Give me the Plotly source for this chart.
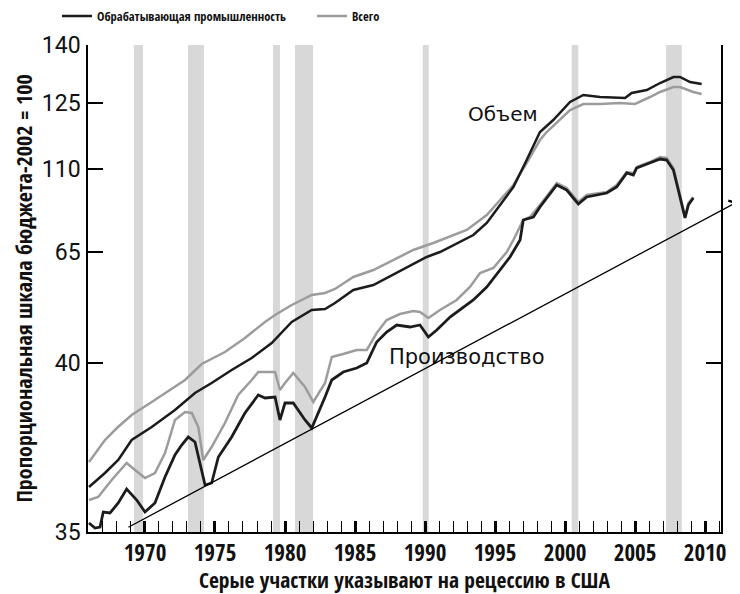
import plotly.graph_objects as go

# ---------------- data ----------------
# y values are positions on the chart's proportional scale (0 = bottom "35", 487 = top "140")
vol_total_x = [1966.0, 1967.14, 1968.07, 1969.05, 1970.48, 1971.91, 1972.86, 1974.05, 1975.71, 1977.14,
               1978.57, 1979.29, 1980.48, 1981.91, 1982.86, 1983.57, 1984.88, 1986.31, 1987.74, 1989.16,
               1990.59, 1992.02, 1992.98, 1994.41, 1995.36, 1996.31, 1997.26, 1998.21, 1998.69, 1999.64,
               2000.36, 2001.31, 2002.5, 2003.93, 2005.0, 2006.07, 2006.79, 2007.74, 2008.21, 2009.16, 2009.76]
vol_total_y = [70, 92, 105, 117, 130, 143, 152, 168, 180, 194,
               210, 217, 227, 237, 239, 243, 255, 262, 272, 282,
               289, 297, 302, 317, 332, 347, 369, 392, 400, 412,
               422, 428, 428, 429, 428, 435, 440, 445, 445, 440, 438]

vol_manuf_x = [1966.0, 1967.14, 1968.09, 1969.05, 1970.48, 1972.14, 1973.57, 1974.76, 1976.19, 1977.62,
               1979.05, 1980.48, 1981.91, 1982.86, 1983.57, 1984.88, 1986.31, 1987.26, 1988.69, 1990.12,
               1991.07, 1992.5, 1993.45, 1994.41, 1995.36, 1996.31, 1997.26, 1998.21, 1999.16, 2000.36,
               2001.31, 2002.5, 2004.29, 2004.76, 2005.84, 2006.79, 2007.74, 2008.21, 2008.93, 2009.76]
vol_manuf_y = [45, 59, 72, 92, 105, 122, 139, 149, 162, 174,
               189, 210, 222, 223, 229, 242, 247, 254, 265, 275,
               280, 290, 297, 309, 327, 345, 372, 400, 412, 430,
               437, 435, 434, 439, 442, 449, 455, 455, 450, 448]

prod_total_x = [1966.0, 1966.66, 1967.62, 1968.69, 1969.29, 1970.0, 1970.71, 1971.43, 1972.14, 1972.86,
                1973.34, 1973.81, 1974.16, 1974.76, 1975.71, 1976.66, 1977.62, 1978.09, 1979.29, 1979.64,
                1980.0, 1980.59, 1981.43, 1982.02, 1982.86, 1983.34, 1984.16, 1985.12, 1985.84, 1986.55,
                1987.26, 1988.21, 1989.16, 1989.64, 1990.24, 1991.07, 1992.26, 1993.21, 1993.93, 1994.88,
                1995.84, 1996.31, 1997.02, 1997.5, 1998.21, 1999.41, 2000.12, 2000.95, 2001.55, 2002.98,
                2003.69, 2004.41, 2004.88, 2005.12, 2006.07, 2006.79, 2007.26, 2007.74, 2008.21, 2008.57,
                2008.81, 2009.16]
prod_total_y = [32, 35, 52, 69, 62, 54, 59, 79, 112, 120,
                119, 105, 72, 85, 109, 137, 152, 160, 160, 142,
                149, 159, 145, 130, 149, 175, 178, 182, 182, 199,
                212, 218, 221, 220, 214, 222, 232, 245, 259, 264,
                280, 292, 312, 315, 327, 349, 344, 330, 337, 340,
                347, 360, 359, 365, 370, 375, 374, 364, 337, 315,
                329, 335]

prod_manuf_x = [1966.0, 1966.43, 1966.79, 1967.02, 1967.5, 1968.09, 1968.69, 1969.05, 1969.41, 1970.0,
                1970.71, 1971.43, 1972.14, 1972.62, 1973.09, 1973.57, 1973.93, 1974.29, 1974.76, 1975.24,
                1976.19, 1977.14, 1978.09, 1978.57, 1979.29, 1979.64, 1980.0, 1980.59, 1981.43, 1981.91,
                1982.86, 1983.34, 1984.16, 1985.12, 1985.84, 1986.55, 1987.26, 1987.98, 1988.93, 1989.64,
                1990.24, 1990.84, 1991.79, 1992.74, 1993.45, 1994.41, 1995.36, 1996.07, 1996.79, 1997.02,
                1997.74, 1998.21, 1999.41, 2000.12, 2000.95, 2001.55, 2002.98, 2003.69, 2004.41, 2004.88,
                2005.12, 2006.07, 2006.79, 2007.26, 2007.74, 2008.21, 2008.57, 2008.81, 2009.16]
prod_manuf_y = [9, 4, 5, 20, 19, 29, 43, 37, 32, 20,
                29, 55, 77, 87, 95, 90, 69, 47, 49, 75,
                95, 119, 137, 134, 135, 112, 129, 129, 112, 104,
                135, 152, 160, 164, 169, 190, 200, 207, 205, 207,
                195, 202, 215, 225, 232, 245, 262, 275, 292, 312,
                315, 325, 347, 342, 328, 335, 339, 345, 359, 357,
                364, 369, 373, 372, 362, 335, 314, 327, 334]

recession_start = [1969.21, 1973.07, 1979.14, 1980.71, 1989.84, 2000.48, 2007.21]
recession_end = [1969.86, 1974.21, 1979.64, 1982.0, 1990.26, 2000.95, 2008.34]

y_tick_pos = [0, 169, 280, 363, 429, 487]
y_tick_text = ["35", "40", "65", "110", "125", "140"]

series_manuf_name = "Обрабатывающая промышленность"
series_total_name = "Всего"

# ---------------- styles ----------------
BLACK = "#1c1c1c"
GRAY = "#9c9c9c"
NARROW = "Noto Sans Condensed, Open Sans Condensed, Liberation Sans Narrow, DejaVu Sans Condensed, sans-serif"

fig = go.Figure()

fig.add_trace(go.Scatter(x=vol_total_x, y=vol_total_y, mode="lines", name=series_total_name,
                         line=dict(color=GRAY, width=2.5), legendgroup="t", legendrank=2, showlegend=True))
fig.add_trace(go.Scatter(x=prod_total_x, y=prod_total_y, mode="lines", name=series_total_name,
                         line=dict(color=GRAY, width=2.5), legendgroup="t", showlegend=False))
fig.add_trace(go.Scatter(x=vol_manuf_x, y=vol_manuf_y, mode="lines", name=series_manuf_name,
                         line=dict(color=BLACK, width=2.5), legendgroup="m", legendrank=1, showlegend=True))
fig.add_trace(go.Scatter(x=prod_manuf_x, y=prod_manuf_y, mode="lines", name=series_manuf_name,
                         line=dict(color=BLACK, width=2.8), legendgroup="m", showlegend=False))

for s, e in zip(recession_start, recession_end):
    fig.add_shape(type="rect", xref="x", yref="paper", x0=s, x1=e, y0=0, y1=1,
                  fillcolor="#d8d8d8", line=dict(width=0), layer="below")

fig.add_annotation(x=1995.57, y=418, xref="x", yref="y", text="Объем", showarrow=False,
                   font=dict(family="DejaVu Sans", size=20, color="#111"))
fig.add_annotation(x=1993.0, y=175, xref="x", yref="y", text="Производство", showarrow=False,
                   font=dict(family="DejaVu Sans", size=21, color="#111"))
fig.add_annotation(x=2012.29, y=330, ax=1968.71, ay=4, xref="x", yref="y", axref="x", ayref="y",
                   text="", showarrow=True, arrowhead=4, arrowsize=1.6, arrowwidth=1.3,
                   arrowcolor="#000", standoff=0, startstandoff=0)

# the page body adds an 8 px offset, so the figure is 8 px smaller on each dimension
fig.update_layout(
    width=732, height=586,
    margin=dict(l=80, r=19, t=37, b=62, autoexpand=False),
    paper_bgcolor="white", plot_bgcolor="white",
    showlegend=True,
    legend=dict(orientation="h", x=-0.049, xanchor="left", y=1.059, yanchor="middle",
                entrywidth=210, entrywidthmode="pixels",
                font=dict(family=NARROW, size=12.5, color="#111"), bgcolor="rgba(0,0,0,0)",
                traceorder="normal"),
    xaxis=dict(range=[1965.93, 2011.14], tickmode="linear", tick0=1970, dtick=5,
               ticks="inside", ticklen=11, tickwidth=2.5, tickcolor="black",
               minor=dict(ticks="inside", dtick=1, tick0=1970, ticklen=11, tickwidth=1, tickcolor="black",
                          showgrid=False),
               showline=True, linecolor="black", linewidth=1.5, mirror=False,
               showgrid=False, zeroline=False, automargin=False,
               tickfont=dict(family=NARROW, size=23, color="#111", weight="bold"),
               title=dict(text="Серые участки указывают на рецессию в США",
                          font=dict(family=NARROW, size=21.5, color="#111", weight="bold"), standoff=0)),
    yaxis=dict(range=[0, 487], tickmode="array", tickvals=y_tick_pos, ticktext=y_tick_text,
               ticks="inside", ticklen=15, tickwidth=1.5, tickcolor="black",
               showline=True, linecolor="black", linewidth=1.5, mirror="ticks",
               showgrid=False, zeroline=False, automargin=False, ticklabelstandoff=1,
               tickfont=dict(family="Roboto", size=23, color="#111"),
               title=dict(text="Пропорциональная шкала бюджета-2002 = 100",
                          font=dict(family=NARROW, size=22, color="#111", weight="bold"), standoff=5)),
)

fig.write_html("out.html")
